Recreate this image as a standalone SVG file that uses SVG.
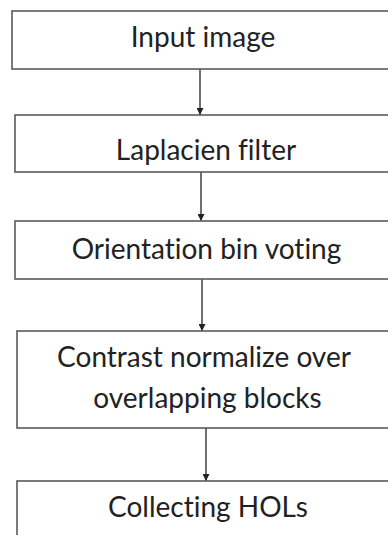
<svg xmlns="http://www.w3.org/2000/svg" width="388" height="535" viewBox="0 0 388 535">
<defs>
<style>
.box{fill:#fff;stroke:#5a5a5a;stroke-width:1.6}
.lbl{font-family:Lato,"Open Sans","Liberation Sans",sans-serif;font-size:28px;fill:#222;text-anchor:middle;font-variant-ligatures:none}
.edge{stroke:#222;stroke-width:1.3;fill:none;marker-end:url(#ah)}
</style>
<marker id="ah" viewBox="0 0 10 10" refX="10" refY="5" markerWidth="7" markerHeight="7" markerUnits="userSpaceOnUse" orient="auto">
<path d="M0,0 L10,5 L0,10 z" fill="#222"/>
</marker>
</defs>
<rect width="388" height="535" fill="#fff"/>
<g id="connectors">
<line class="edge" x1="200" y1="69" x2="200" y2="115"/>
<line class="edge" x1="201" y1="172" x2="201" y2="221"/>
<line class="edge" x1="202" y1="279" x2="202" y2="331"/>
<line class="edge" x1="206" y1="428" x2="206" y2="481"/>
</g>
<g id="n1"><rect class="box" x="12" y="11" width="400" height="58"/><text class="lbl" x="203" y="47">Input image</text></g>
<g id="n2"><rect class="box" x="15" y="115" width="400" height="57"/><text class="lbl" x="206" y="160">Laplacien filter</text></g>
<g id="n3"><rect class="box" x="15" y="221" width="400" height="58"/><text class="lbl" x="206.5" y="259">Orientation bin voting</text></g>
<g id="n4"><rect class="box" x="17" y="331" width="400" height="97"/><text class="lbl" x="204" y="367">Contrast normalize over</text><text class="lbl" x="207.5" y="408">overlapping blocks</text></g>
<g id="n5"><rect class="box" x="17" y="481" width="400" height="80"/><text class="lbl" x="208" y="517">Collecting HOLs</text></g>
</svg>
